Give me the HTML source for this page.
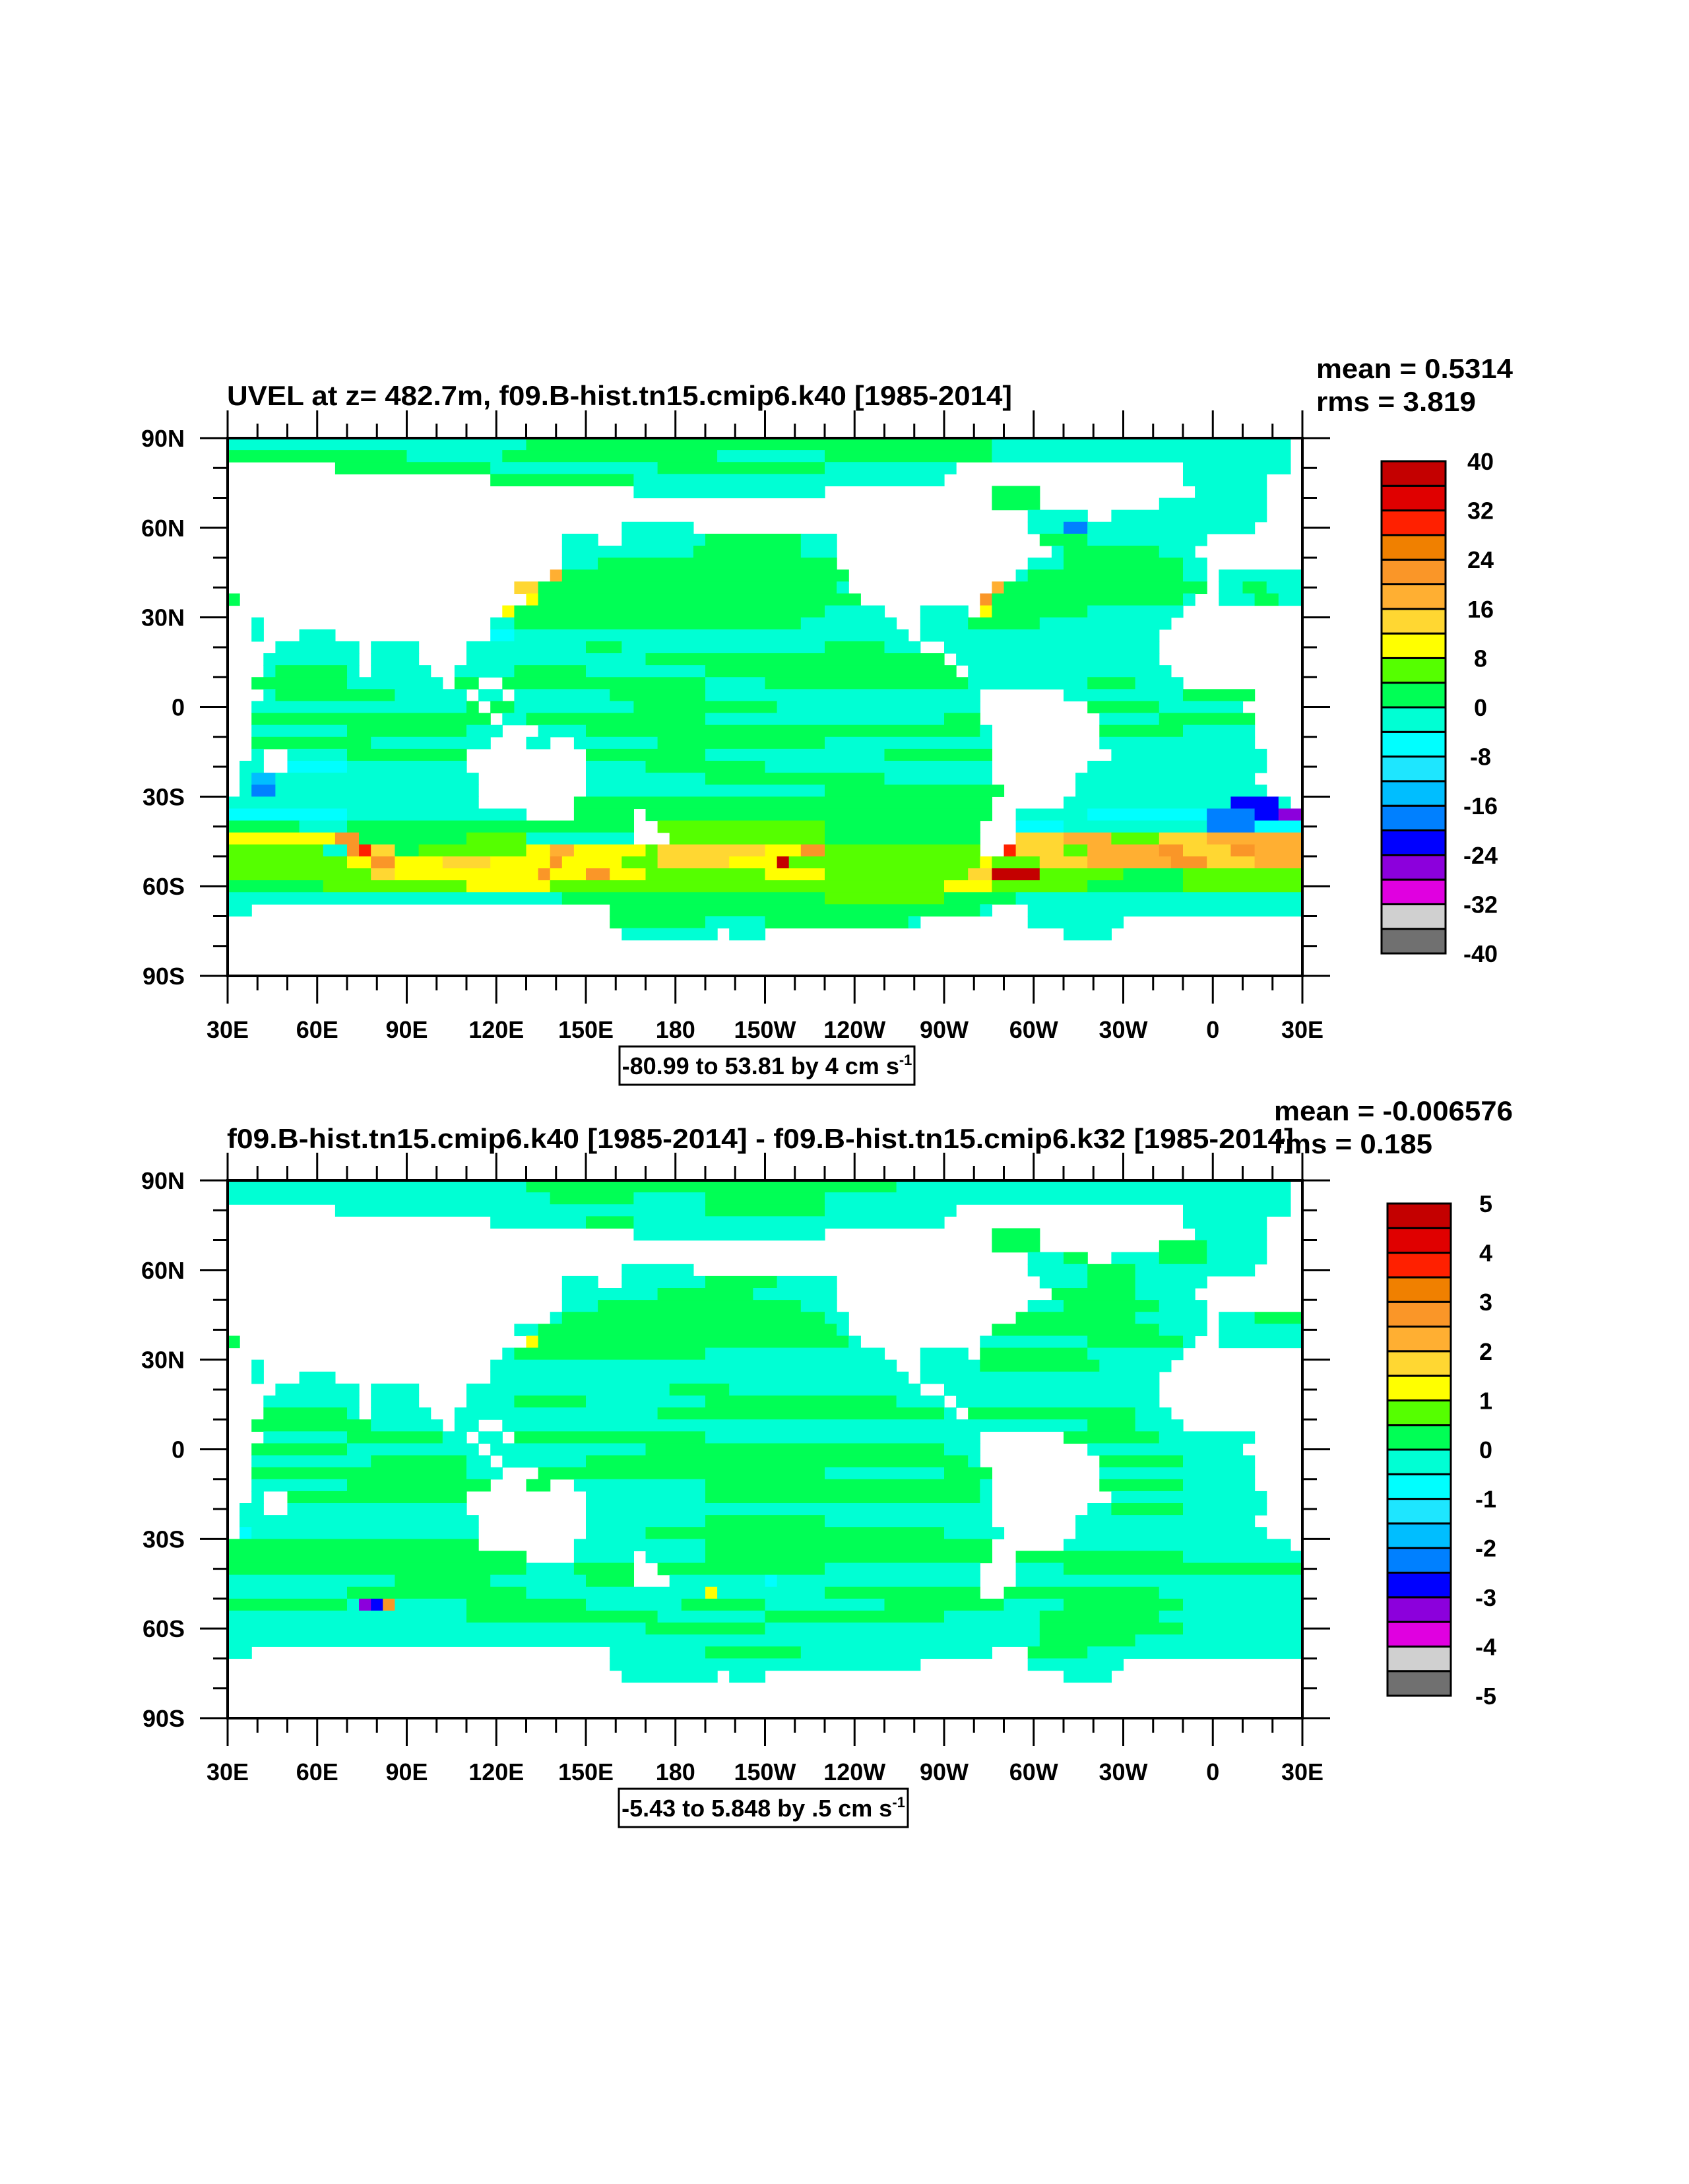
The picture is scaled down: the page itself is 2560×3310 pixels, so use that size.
<!DOCTYPE html>
<html><head><meta charset="utf-8"><title>UVEL</title>
<style>
html,body{margin:0;padding:0;background:#fff;}
svg{display:block;font-family:"Liberation Sans",Arial,sans-serif;font-weight:bold;}
</style></head>
<body>
<svg id="fig" xmlns="http://www.w3.org/2000/svg" width="2560" height="3310" viewBox="0 0 2560 3310"></svg>
<script>
// ---- shared ocean mask (ocean column spans per 4-degree latitude row, 90N -> 90S) ----
const oceanMask = [
"0-88","0-88","9-60,80-88","22-59,80-86","34-49,64-67,81-86","64-67,78-86","67-71,74-86",
"33-38,67-85","28-30,33-50,68-81","28-30,31-50,69-80","28-50,67-81","27-51,66-81,83-89",
"24-51,64-81,83-89","0-0,25-52,63-80,83-89","23-54,58-61,63-79","2-2,22-55,58-61,62-78",
"2-2,6-8,22-56,58-77","4-10,12-15,20-57,60-77","3-10,12-15,20-59,61-77","3-10,12-16,19-60,62-78",
"2-17,19-20,23-62,63-79","3-19,21-22,24-62,70-85","2-20,22-23,24-62,72-84","2-21,23-24,25-62,73-85",
"2-22,26-63,73-85","2-21,25-26,29-63,73-85","2-2,5-19,30-63,74-86","1-2,5-19,30-63,72-86",
"1-20,30-63,71-85","1-20,30-64,71-86","0-20,29-63,70-88","0-24,29-33,35-63,66-89",
"0-33,36-62,66-89","0-33,37-62,66-89","0-62,65-89","0-89","0-89","0-89","0-89",
"0-1,32-63,67-89","32-57,67-74","33-40,42-44,70-73","","",""
];
// ---- level codes per row (start column + level code) ----
const colorRowsTop = [
"0c 25g 64c","0g 15c 23g 41c 50g 64c","0g 22c 36g 50c","0c 22g 34c","0c 64g 68c","0c 64g 68c","0c",
"0c 70B 72c","0c 40g 48c 68g 72c","0c 39g 48c 70g 78c","0c 31g 67c 70g 80c","0c 27o 28g 66c 67g 80c",
"0c 24Y 26g 51c 64o 65g 82c 85g 87c","0g 1c 25y 26g 63O 64g 80c 86g 88c","0c 23y 24g 50c 63y 64g 72c",
"0c 24g 48c 62g 68c","0c 22a 24c","0g 4c 30g 33c 50g 55c","0c 35g 60c","0c 4g 10c 24g 30c 40g 61c",
"0g 10c 19g 40c 45g 62c 72g 76c","0c 4g 14c 32g 40c 80g","0c 20g 24c 34g 46c 72g 78c","0g 22c 25g 40c 60g 73c 78g",
"0c 10g 20c 30g 63c 73g 80c","0g 12c 36g 50c 73c","0c 10g 20c 30g 40c 55g 74c","0c 5a 10c 35g 45c 74c",
"0c 2s 4c 40g 55c 71c","0c 2B 4c 50g 71c","0c 29g 64c 84k 88c","0a 10c 29g 66c 72a 82B 86k 88p",
"0g 6c 10g 36l 50g 66a 70c 82B 86a","0y 9O 11g 20l 25c 37l 50g 66Y 70o 74l 78Y 82o",
"0l 8c 10O 11r 12Y 14g 16l 25y 27o 29y 35l 36Y 45y 48O 50l 65r 66Y 70l 72o 78O 80Y 84O 86o",
"0l 10y 12O 14y 18Y 22y 27O 28y 33l 36Y 42y 46R 47l 63y 64l 68Y 72o 79O 82Y 86o",
"0l 12Y 14y 26O 27y 30O 32y 35l 45y 50l 62Y 64R 68l 75g 80l","0g 8l 20y 27l 60y 64l 72g 80l",
"0c 28g 50l 60g 66c","0c 32g 63c","0c 32g 40c 45g 57c","0c","0c","0c","0c"
];
const colorRowsBottom = [
"0c 25g 56c","0c 27g 34c 40g 50c","0c 40g 50c","0c 30g 34c","0c 64g 68c","0c 64g 68c 78g 82c","0c 70g 74c 78g 82c",
"0c 72g 76c","0c 40g 46c 72g 76c","0c 36g 44c 69g 76c","0c 31g 48c 70g 78c","0c 28g 50c 66g 76c 86g",
"0c 26g 51c 62g 78c","0g 1c 25y 26g 52c 72g 80c","0c 24g 40c 63g 72c","0c 63g 73c","0c","0c 37g 42c",
"0c 24g 30c 40g 56c","0g 10c 36g 60c 62g 76c","0g 12c 72g 76c","0c 10g 18c 24g 40c 70g 78c","0g 10c 35g 60c",
"0c 12g 20c 30g 62c 73g 80c","0g 20c 26g 50c 60g 73c","0c 10g 29c 40g 63c 73g 80c","0c 5g 20c 40g 63c",
"0c 74g 80c","0c 40g 50c","0a 2c 35g 60c","0g 29c 40g 64c","0g 29c 40g 66g 80c","0g 25c 29g 50c 70g",
"0c 14g 22c 30g 37c 45a 46c","0c 10g 25c 40y 41c 50g 72g 78c","0g 10c 11p 12k 13O 14c 20g 30c 38g 45c 55g 65c 70g 80c",
"0c 20g 36c 45g 60c 68g 78c","0c 35g 45c 68g 80c","0c 68g 76c","0c 40g 48c 67g 72c","0c","0c","0c","0c","0c"
];
const levelCodes = {c:"#00FFD4",g:"#00FF55",l:"#55FF00",y:"#FFFF00",Y:"#FFD732",o:"#FFAF32",O:"#FA9628",r:"#FF2000",R:"#C40000",a:"#00FFFF",b:"#1EE6FF",s:"#00BEFF",B:"#0080FF",k:"#0000FF",p:"#8C00DC"};
const barColors = ["#707070","#D0D0D0","#E000E0","#8C00DC","#0000FF","#0080FF","#00BEFF","#1EE6FF","#00FFFF","#00FFD4","#00FF55","#55FF00","#FFFF00","#FFD732","#FFAF32","#FA9628","#F08000","#FF2000","#E00000","#C40000"];
const cbLabelsTop = ["40","32","24","16","8","0","-8","-16","-24","-32","-40"];
const cbLabelsBottom = ["5","4","3","2","1","0","-1","-2","-3","-4","-5"];
const lonTickLabels = ["30E","60E","90E","120E","150E","180","150W","120W","90W","60W","30W","0","30E"];
const latTickLabels = ["90N","60N","30N","0","30S","60S","90S"];

const NS="http://www.w3.org/2000/svg";
const fig=document.getElementById('fig');
function mk(tag,attrs,parent){const e=document.createElementNS(NS,tag);for(const k in attrs)e.setAttribute(k,attrs[k]);(parent||fig).appendChild(e);return e;}
function txt(s,attrs,parent){const e=mk('text',attrs,parent);e.textContent=s;return e;}

const X0=345,W=1629,H=815,NC=90,NR=45;
function xLon(lon){return X0+(lon-30)/360*W;}
function yLat(y0,lat){return y0+(90-lat)/180*H;}
function parseMask(s){const r=[];if(!s)return r;s.split(',').forEach(p=>{const a=p.split('-');r.push([+a[0],+a[1]]);});return r;}
function parseColors(s){return s.trim().split(/\s+/).map(t=>[parseInt(t),t.slice(-1)]);}

function drawMap(y0,rows,name){
  const g=mk('g',{});
  
  
  const cw=W/NC,ch=H/NR;
  for(let j=0;j<NR;j++){
    const spans=parseMask(oceanMask[j]);
    const bps=parseColors(rows[j]||"0c");
    const codes=[];
    for(let i=0;i<NC;i++){
      let ocean=spans.some(s=>i>=s[0]&&i<=s[1]);
      if(!ocean){codes.push(null);continue;}
      let c='c';for(const b of bps){if(i>=b[0])c=b[1];}
      codes.push(c);
    }
    let i=0;
    while(i<NC){
      if(codes[i]===null){i++;continue;}
      let k=i;while(k+1<NC&&codes[k+1]===codes[i])k++;
      const lonA=30+i*4, lonB=30+(k+1)*4, latA=90-j*4, latB=90-(j+1)*4;
      const r=mk('rect',{x:xLon(lonA),y:yLat(y0,latA),width:xLon(lonB)-xLon(lonA)+0.6,height:yLat(y0,latB)-yLat(y0,latA)+0.6,fill:levelCodes[codes[i]]},g);
      
      
      i=k+1;
    }
  }
}

function drawAxes(y0,prefix){
  const g=mk('g',{stroke:'#000','stroke-width':3,fill:'none'});
  
  
  for(let lon=30;lon<=390;lon+=10){
    const major=(lon-30)%30===0,L=major?42:22,x=xLon(lon);
    mk('line',{x1:x,y1:y0,x2:x,y2:y0-L},g);
    mk('line',{x1:x,y1:y0+H,x2:x,y2:y0+H+L},g);
  }
  for(let lat=90;lat>=-90;lat-=10){
    const major=lat%30===0,L=major?42:22,y=yLat(y0,lat);
    mk('line',{x1:X0,y1:y,x2:X0-L,y2:y},g);
    mk('line',{x1:X0+W,y1:y,x2:X0+W+L,y2:y},g);
  }
  const f=mk('rect',{x:X0,y:y0,width:W,height:H,fill:'none',stroke:'#000','stroke-width':4});
  
  
  lonTickLabels.forEach((s,i)=>{
    const t=txt(s,{x:xLon(30+i*30),y:y0+H+94,'font-size':36,'text-anchor':'middle'});
    
    
  });
  latTickLabels.forEach((s,i)=>{
    const t=txt(s,{x:280,y:yLat(y0,90-i*30)+13,'font-size':36,'text-anchor':'end'});
    
    
  });
}

function drawColorbar(x,y,w,h,labels,prefix){
  const g=mk('g',{});
  
  
  const n=barColors.length,bh=h/n;
  barColors.forEach((c,i)=>{
    const r=mk('rect',{x:x,y:y+h-(i+1)*bh,width:w,height:bh,fill:c,stroke:'#000','stroke-width':3},g);
    
    
  });
  labels.forEach((s,i)=>{
    const t=txt(s,{x:x+w+53,y:y+i*2*bh+13,'font-size':36,'text-anchor':'middle'},g);
    
    
  });
}

function drawInfo(x,y,w,h,main,prefix){
  const r=mk('rect',{x:x,y:y,width:w,height:h,fill:'#fff',stroke:'#000','stroke-width':3});
  
  
  const t=txt('',{x:x+w/2,y:y+h/2+13,'font-size':36,'text-anchor':'middle'});
  
  
  const a=document.createElementNS(NS,'tspan');a.textContent=main;t.appendChild(a);
  const b=document.createElementNS(NS,'tspan');b.setAttribute('dy','-14');b.setAttribute('font-size','22');b.textContent='-1';t.appendChild(b);
}

// Top panel
const Y1=664,Y2=1789;
drawMap(Y1,colorRowsTop,'top-map');
drawAxes(Y1,'top');
drawColorbar(2094,699,97,746,cbLabelsTop,'top');
drawInfo(939,1586,447,58,'-80.99 to 53.81 by 4 cm s','top');
let t;
t=txt('UVEL at z= 482.7m, f09.B-hist.tn15.cmip6.k40 [1985-2014]',{x:344,y:614,'font-size':42,textLength:1190,lengthAdjust:'spacingAndGlyphs'});


t=txt('mean = 0.5314',{x:1995,y:573,'font-size':42,textLength:298,lengthAdjust:'spacingAndGlyphs'});


t=txt('rms = 3.819',{x:1995,y:623,'font-size':42,textLength:242,lengthAdjust:'spacingAndGlyphs'});



// Bottom panel
drawMap(Y2,colorRowsBottom,'bottom-map');
drawAxes(Y2,'bottom');
drawColorbar(2103,1824,96,746,cbLabelsBottom,'bottom');
drawInfo(938,2711,438,58,'-5.43 to 5.848 by .5 cm s','bottom');
t=txt('f09.B-hist.tn15.cmip6.k40 [1985-2014] - f09.B-hist.tn15.cmip6.k32 [1985-2014]',{x:344,y:1740,'font-size':42,textLength:1617,lengthAdjust:'spacingAndGlyphs'});


t=txt('mean = -0.006576',{x:1931,y:1698,'font-size':42,textLength:362,lengthAdjust:'spacingAndGlyphs'});


t=txt('rms = 0.185',{x:1931,y:1748,'font-size':42,textLength:240,lengthAdjust:'spacingAndGlyphs'});


</script>
</body></html>
